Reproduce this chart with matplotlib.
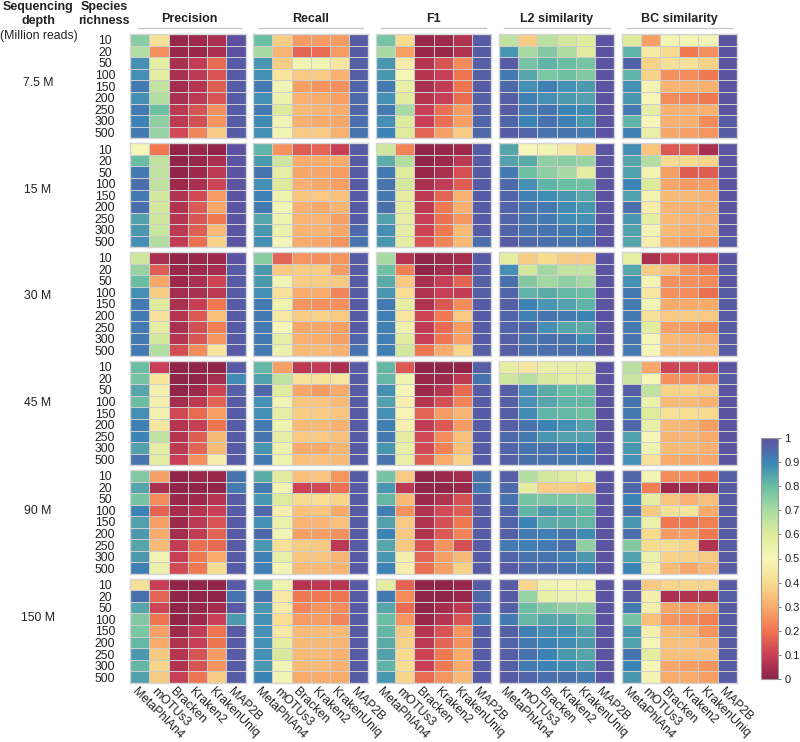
import numpy as np
import matplotlib
matplotlib.use("Agg")
import matplotlib.pyplot as plt
from matplotlib.lines import Line2D
from matplotlib.colors import LinearSegmentedColormap
from matplotlib.transforms import ScaledTranslation

plt.rcParams['font.family'] = ['Liberation Sans', 'DejaVu Sans']

TOOLS = ["MetaPhlAn4", "mOTUs3", "Bracken", "Kraken2", "KrakenUniq", "MAP2B"]
RICHNESS = ["10", "20", "50", "100", "150", "200", "250", "300", "500"]
DEPTHS = ["7.5 M", "15 M", "30 M", "45 M", "90 M", "150 M"]
METRIC_NAMES = ["Precision", "Recall", "F1", "L2 similarity", "BC similarity"]

PRECISION = [
 [.75,.42,.02,.03,.05,1],[.68,.25,.02,.02,.05,1],[.88,.58,.05,.09,.18,.98],[.88,.58,.05,.08,.14,.98],[.92,.65,.04,.07,.16,.98],[.88,.68,.05,.08,.14,.98],[.92,.79,.08,.14,.25,.98],[.9,.74,.08,.13,.26,.98],[.92,.73,.12,.23,.37,.98],
 [.5,.21,.01,.02,.01,1],[.8,.66,.01,.02,.05,.99],[.92,.66,.01,.03,.08,.99],[.94,.66,.03,.05,.11,.99],[.92,.62,.06,.12,.27,.99],[.94,.62,.06,.15,.29,.99],[.85,.63,.07,.14,.21,.99],[.87,.64,.08,.16,.33,.99],[.88,.68,.09,.19,.38,.99],
 [.63,.05,.01,.02,.03,.99],[.73,.16,.02,.03,.04,.98],[.8,.29,.03,.05,.11,.98],[.88,.37,.04,.05,.08,.98],[.92,.6,.05,.1,.21,.98],[.92,.42,.07,.15,.34,.98],[.92,.58,.05,.13,.22,.98],[.92,.62,.07,.14,.26,.98],[.92,.68,.13,.24,.43,.98],
 [.8,.1,.01,.01,.01,.98],[.78,.43,.01,.01,.04,.89],[.84,.48,.01,.03,.11,.97],[.8,.47,.04,.08,.17,.98],[.88,.48,.12,.18,.28,.98],[.91,.44,.07,.1,.2,.98],[.9,.66,.07,.16,.33,.98],[.85,.57,.08,.17,.33,.98],[.93,.58,.1,.25,.47,.98],
 [.76,.28,.01,.02,.02,.93],[.84,.05,.01,.01,.01,.92],[.78,.24,.02,.03,.07,.98],[.9,.17,.04,.07,.1,.98],[.85,.28,.03,.08,.14,.98],[.86,.3,.04,.09,.17,.98],[.84,.33,.09,.19,.18,.98],[.86,.52,.1,.21,.3,.98],[.91,.55,.12,.21,.41,.98],
 [.42,.1,.01,.01,.01,.98],[.94,.17,.01,.01,.01,.93],[.84,.11,.01,.02,.04,.98],[.76,.2,.01,.03,.1,.86],[.77,.28,.03,.09,.2,.98],[.81,.3,.06,.1,.2,.98],[.86,.36,.07,.14,.27,.98],[.81,.39,.06,.14,.26,.98],[.85,.36,.1,.2,.37,.98],
]
RECALL = [
 [.8,.37,.27,.27,.27,.98],[.7,.32,.17,.18,.27,.98],[.87,.37,.52,.52,.44,.97],[.88,.43,.36,.36,.31,.97],[.92,.52,.28,.26,.25,.96],[.88,.54,.31,.3,.28,.95],[.92,.6,.33,.32,.3,.96],[.89,.52,.31,.3,.29,.94],[.88,.52,.36,.36,.31,.93],
 [.82,.26,.16,.17,.1,.98],[.86,.63,.3,.3,.3,.98],[.93,.57,.29,.29,.27,.98],[.88,.6,.31,.3,.28,.98],[.91,.53,.35,.36,.34,.98],[.92,.52,.31,.3,.32,.98],[.84,.53,.32,.32,.28,.98],[.87,.55,.32,.32,.29,.95],[.88,.51,.3,.29,.26,.93],
 [.75,.17,.26,.25,.26,.98],[.86,.36,.37,.37,.27,.98],[.86,.52,.37,.37,.36,.98],[.88,.42,.3,.3,.23,.98],[.92,.53,.26,.25,.25,.98],[.92,.45,.37,.38,.36,.98],[.92,.5,.29,.29,.28,.98],[.92,.57,.31,.3,.28,.96],[.92,.55,.33,.33,.31,.93],
 [.81,.28,.08,.09,.05,.98],[.85,.66,.42,.42,.44,.98],[.95,.59,.29,.27,.3,.98],[.88,.52,.35,.35,.33,.98],[.88,.57,.37,.37,.35,.98],[.92,.53,.33,.33,.31,.98],[.93,.57,.36,.36,.34,.98],[.87,.54,.3,.3,.32,.98],[.92,.53,.34,.34,.33,.98],
 [.83,.59,.34,.35,.26,.98],[.92,.52,.11,.12,.19,.98],[.87,.6,.4,.41,.39,.98],[.95,.47,.34,.35,.3,.98],[.88,.55,.32,.32,.34,.98],[.95,.52,.28,.28,.25,.98],[.87,.42,.37,.36,.08,.98],[.91,.56,.35,.35,.32,.98],[.91,.52,.33,.33,.32,.98],
 [.8,.53,.07,.08,.07,.98],[.93,.45,.21,.21,.2,.98],[.87,.46,.23,.26,.24,.98],[.88,.41,.27,.27,.23,.98],[.88,.45,.33,.33,.33,.98],[.88,.58,.33,.33,.32,.98],[.88,.61,.33,.33,.31,.98],[.87,.52,.33,.33,.31,.98],[.9,.52,.3,.3,.3,.98],
]
F1 = [
 [.78,.4,.02,.03,.06,.98],[.7,.28,.02,.02,.06,.98],[.87,.46,.07,.14,.24,.97],[.87,.5,.07,.1,.2,.97],[.92,.56,.05,.09,.2,.98],[.88,.59,.07,.1,.18,.97],[.92,.7,.1,.19,.27,.97],[.88,.6,.1,.19,.28,.96],[.9,.6,.17,.28,.36,.95],
 [.63,.23,.01,.02,.03,.98],[.83,.68,.01,.03,.08,.98],[.92,.6,.02,.05,.13,.98],[.93,.62,.05,.09,.16,.98],[.92,.58,.08,.17,.31,.98],[.94,.57,.08,.21,.31,.98],[.85,.57,.1,.19,.26,.98],[.88,.57,.11,.21,.33,.98],[.87,.58,.14,.23,.33,.94],
 [.7,.07,.01,.03,.04,.98],[.79,.22,.01,.04,.05,.98],[.83,.36,.05,.1,.17,.97],[.87,.41,.06,.1,.09,.97],[.92,.57,.06,.15,.24,.98],[.91,.44,.11,.21,.36,.98],[.91,.54,.09,.18,.27,.98],[.91,.59,.1,.2,.28,.98],[.91,.62,.2,.3,.39,.97],
 [.81,.15,.01,.01,.01,.97],[.81,.53,.02,.03,.08,.93],[.88,.5,.03,.07,.18,.98],[.85,.48,.07,.13,.23,.98],[.88,.49,.17,.27,.32,.98],[.91,.48,.09,.15,.27,.98],[.92,.58,.12,.24,.34,.98],[.87,.56,.12,.22,.34,.98],[.93,.56,.16,.3,.38,.98],
 [.78,.36,.01,.03,.04,.94],[.87,.08,.01,.01,.02,.93],[.81,.33,.03,.06,.13,.98],[.91,.25,.06,.12,.16,.98],[.85,.36,.06,.13,.21,.98],[.9,.36,.06,.15,.23,.98],[.84,.36,.14,.26,.13,.98],[.87,.47,.17,.28,.33,.98],[.9,.47,.19,.28,.38,.98],
 [.58,.17,.01,.01,.02,.98],[.92,.24,.01,.01,.02,.95],[.84,.18,.01,.04,.08,.98],[.8,.26,.02,.07,.14,.92],[.81,.36,.07,.14,.26,.98],[.83,.38,.08,.17,.25,.98],[.85,.4,.11,.21,.3,.98],[.82,.41,.1,.21,.3,.98],[.87,.39,.18,.26,.33,.98],
]
L2_SIM = [
 [.66,.37,.67,.62,.59,.99],[.87,.7,.76,.69,.59,.99],[.98,.78,.82,.8,.78,.99],[.92,.84,.77,.79,.76,.99],[.95,.88,.91,.88,.86,.99],[.97,.91,.88,.86,.85,.99],[.98,.92,.93,.9,.89,.99],[.96,.9,.93,.91,.87,.99],[.98,.96,.93,.93,.92,.99],
 [.84,.5,.52,.45,.37,.99],[.85,.83,.74,.75,.72,.99],[.92,.79,.74,.7,.58,.99],[.95,.88,.82,.8,.79,.99],[.96,.91,.89,.87,.84,.99],[.96,.93,.92,.89,.87,.99],[.96,.93,.92,.89,.88,.99],[.96,.93,.93,.92,.91,.99],[.98,.95,.94,.93,.93,.99],
 [.58,.37,.4,.37,.36,.99],[.88,.62,.71,.65,.65,.99],[.94,.76,.71,.74,.71,.99],[.96,.82,.83,.81,.8,.99],[.97,.91,.87,.85,.82,.99],[.96,.91,.93,.92,.9,.99],[.96,.95,.88,.84,.83,.99],[.97,.93,.94,.93,.89,.99],[.97,.94,.94,.94,.93,.99],
 [.57,.44,.56,.56,.57,.99],[.63,.67,.61,.57,.57,.99],[.97,.88,.83,.8,.79,.99],[.97,.88,.84,.82,.81,.99],[.97,.89,.82,.81,.79,.99],[.97,.93,.9,.88,.85,.99],[.95,.92,.87,.85,.85,.99],[.96,.93,.93,.92,.9,.99],[.97,.94,.93,.92,.92,.99],
 [.97,.68,.62,.6,.55,.99],[.95,.58,.37,.37,.35,.99],[.93,.78,.77,.77,.76,.99],[.96,.82,.86,.84,.81,.99],[.96,.9,.83,.83,.81,.99],[.97,.92,.91,.93,.89,.99],[.92,.91,.92,.94,.74,.99],[.96,.93,.93,.91,.86,.99],[.98,.95,.95,.93,.91,.99],
 [.98,.39,.53,.5,.53,.99],[.98,.73,.56,.53,.53,.99],[.97,.8,.76,.74,.74,.99],[.92,.81,.84,.84,.79,.99],[.97,.91,.88,.88,.85,.99],[.96,.92,.9,.89,.86,.99],[.97,.93,.9,.86,.84,.99],[.97,.92,.9,.89,.86,.99],[.98,.96,.94,.94,.92,.99],
]
BC_SIM = [
 [.6,.28,.52,.52,.52,.99],[.82,.45,.4,.21,.25,.99],[.96,.38,.42,.42,.38,.99],[.82,.38,.25,.24,.21,.99],[.88,.52,.32,.32,.31,.99],[.87,.51,.24,.23,.21,.99],[.92,.57,.31,.31,.31,.99],[.82,.5,.31,.31,.24,.98],[.91,.56,.29,.28,.26,.98],
 [.88,.35,.15,.16,.05,.99],[.84,.68,.4,.4,.39,.99],[.85,.52,.28,.16,.16,.99],[.9,.6,.29,.27,.27,.99],[.85,.52,.33,.33,.31,.99],[.94,.46,.32,.31,.31,.99],[.87,.58,.33,.32,.31,.99],[.85,.52,.33,.31,.31,.99],[.84,.47,.3,.28,.26,.98],
 [.57,.05,.11,.11,.1,.99],[.84,.37,.33,.25,.22,.98],[.88,.52,.25,.25,.24,.99],[.92,.44,.25,.24,.19,.98],[.92,.52,.3,.3,.3,.98],[.92,.42,.36,.37,.36,.98],[.92,.59,.28,.27,.24,.98],[.93,.51,.33,.32,.31,.98],[.92,.5,.33,.33,.33,.98],
 [.67,.29,.11,.12,.11,.99],[.64,.5,.25,.24,.24,.98],[.97,.66,.38,.38,.37,.99],[.93,.55,.33,.33,.31,.99],[.92,.6,.42,.41,.4,.99],[.95,.56,.33,.32,.28,.99],[.85,.5,.32,.32,.3,.99],[.87,.53,.33,.33,.31,.99],[.88,.42,.3,.29,.29,.99],
 [.96,.52,.24,.24,.2,.97],[.95,.22,.03,.04,.04,.98],[.9,.58,.35,.31,.34,.98],[.94,.36,.42,.43,.3,.98],[.87,.55,.21,.2,.22,.98],[.94,.4,.27,.28,.21,.98],[.76,.4,.41,.39,.06,.98],[.85,.55,.38,.38,.36,.98],[.9,.47,.33,.29,.33,.98],
 [.98,.36,.39,.39,.39,.98],[.98,.47,.05,.06,.05,.97],[.92,.47,.29,.27,.28,.98],[.78,.34,.26,.24,.22,.98],[.87,.47,.33,.32,.26,.98],[.85,.51,.34,.34,.32,.98],[.93,.58,.34,.34,.34,.98],[.9,.5,.29,.28,.26,.98],[.87,.52,.3,.3,.28,.98],
]
METRICS = [PRECISION, RECALL, F1, L2_SIM, BC_SIM]
CMAP_COLORS = ['#8c2248', '#c93f56', '#ef7550', '#f8ac6c', '#f7dc90', '#f6f6b9',
               '#dfeb9c', '#a9dba3', '#69bea3', '#3c85b6', '#5d50a0']

W, H = 800, 742
fig = plt.figure(figsize=(W/100, H/100), dpi=100, facecolor='white')

def add_axes_px(x0, y0, x1, y1):
    return fig.add_axes([x0/W, 1-y1/H, (x1-x0)/W, (y1-y0)/H])

def ftext(x, y, s, **kw):
    kw.setdefault('ha', 'center'); kw.setdefault('va', 'center')
    kw.setdefault('color', '#222222')
    fig.text(x/W, 1-y/H, s, **kw)

COL_X = [(130, 245.7), (253.3, 368.3), (376, 491), (499, 614), (621.7, 736.7)]
ROW_Y = [(34, 138.3), (143.3, 247.3), (252, 356), (361, 465.3), (470, 574), (578.7, 683)]
LINE_X = [(138, 241), (259, 363), (381, 486), (504, 610), (627, 732)]
DEPTH_Y = [83, 190, 296, 403, 511, 618]
GRID = '#cdcdcd'
FS = 8.8
cmap = LinearSegmentedColormap.from_list('muted_spectral', CMAP_COLORS, N=256)
shift = ScaledTranslation(-6/100, 0, fig.dpi_scale_trans)

for m, (name, vals) in enumerate(zip(METRIC_NAMES, METRICS)):
    arr = np.array(vals).reshape(6, 9, 6)
    x0, x1 = COL_X[m]
    for d in range(6):
        y0, y1 = ROW_Y[d]
        ax = add_axes_px(x0, y0, x1, y1)
        ax.pcolormesh(arr[d], cmap=cmap, vmin=0, vmax=1, edgecolors=GRID, linewidth=0.6)
        ax.set_ylim(9, 0); ax.set_xlim(0, 6)
        for s in ax.spines.values():
            s.set_color('#d4d4d4'); s.set_linewidth(1.0)
        ax.tick_params(length=0)
        ax.set_xticks([])
        if m == 0:
            ax.set_yticks(np.arange(9)+.5, RICHNESS, fontsize=FS, ha='center', color='#222222')
            ax.tick_params(axis='y', pad=18)
        else:
            ax.set_yticks([])
        if d == 5:
            ax.set_xticks(np.arange(6)+.5, TOOLS, fontsize=FS, rotation=-45, ha='left',
                          va='center', rotation_mode='anchor', color='#222222')
            ax.tick_params(axis='x', pad=5)
            for lab in ax.get_xticklabels():
                lab.set_transform(lab.get_transform() + shift)
    lx0, lx1 = LINE_X[m]
    fig.add_artist(Line2D([lx0/W, lx1/W], [1-28/H]*2, color='#c8c8c8', lw=1))
    ftext((lx0+lx1)/2, 19, name, fontsize=9, fontweight='bold')

ftext(38, 7, "Sequencing", fontsize=9, fontweight='bold')
ftext(38, 21, "depth", fontsize=9, fontweight='bold')
ftext(38.5, 36, "(Million reads)", fontsize=8.8)
ftext(104, 7, "Species", fontsize=9, fontweight='bold')
ftext(104, 21, "richness", fontsize=9, fontweight='bold')
for y, s in zip(DEPTH_Y, DEPTHS):
    ftext(38, y, s, fontsize=FS)

cax = add_axes_px(761, 437.7, 777.5, 679.3)
sm = plt.cm.ScalarMappable(norm=plt.Normalize(0, 1), cmap=cmap)
cb = fig.colorbar(sm, cax=cax, ticks=np.arange(0, 1.01, .1))
cb.ax.set_yticklabels(["0","0.1","0.2","0.3","0.4","0.5","0.6","0.7","0.8","0.9","1"], fontsize=8, color='#222222')
cb.ax.tick_params(length=2.5, width=0.6, color='#666666', pad=2.5)
cb.outline.set_edgecolor('#999999'); cb.outline.set_linewidth(0.8)

fig.savefig("out.png", dpi=100)
